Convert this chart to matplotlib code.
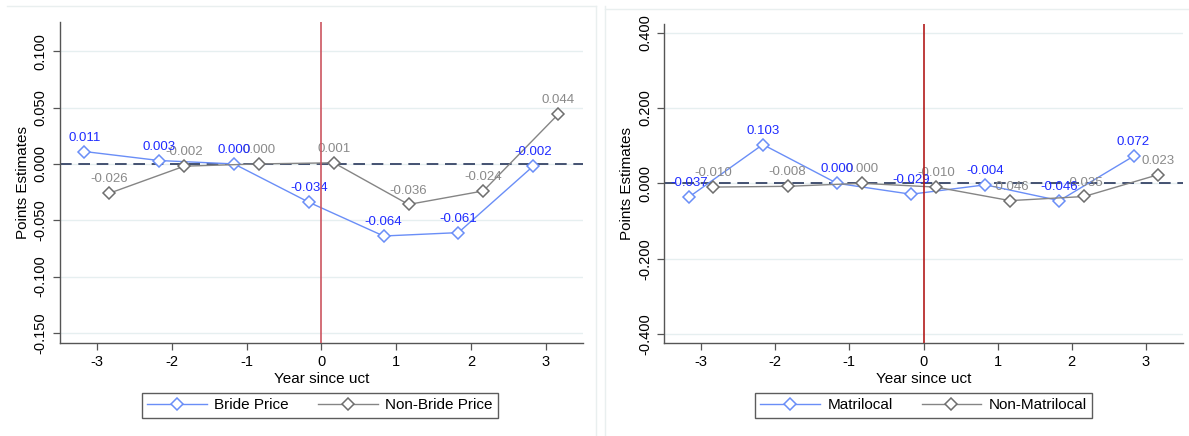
import matplotlib
matplotlib.use("Agg")
import matplotlib.pyplot as plt
from matplotlib.lines import Line2D
import numpy as np

plt.rcParams['font.family'] = ['Liberation Sans', 'DejaVu Sans']

years = [-3, -2, -1, 0, 1, 2, 3]
xtick_labels = ['-3', '-2', '-1', '0', '1', '2', '3']

bride_price = [0.011, 0.003, 0.000, -0.034, -0.064, -0.061, -0.002]
non_bride_price = [-0.026, -0.002, 0.000, 0.001, -0.036, -0.024, 0.044]

matrilocal = [-0.037, 0.103, 0.000, -0.029, -0.004, -0.046, 0.072]
non_matrilocal = [-0.010, -0.008, 0.000, -0.010, -0.046, -0.035, 0.023]

left_yticks = [-0.150, -0.100, -0.050, 0.000, 0.050, 0.100]
right_yticks = [-0.400, -0.200, 0.000, 0.200, 0.400]

series_left = ("Bride Price", bride_price, "Non-Bride Price", non_bride_price)
series_right = ("Matrilocal", matrilocal, "Non-Matrilocal", non_matrilocal)

BLUE_LINE = '#6a8ef7'
BLUE_TXT = '#1f2bff'
GRAY_LINE = '#858585'
GRAY_TXT = '#8a8a8a'

W, H = 1189, 436
fig = plt.figure(figsize=(W / 100, H / 100), dpi=100)

def fx(px):
    return px / W

def fy(py):
    return 1 - py / H

# faint panel borders
for (x0, x1, y) in [(7, 596, 6), (605, 1189, 9)]:
    fig.add_artist(Line2D([fx(x0), fx(x1)], [fy(y), fy(y)], color='#e9efef', lw=1))
for x in [596, 605]:
    fig.add_artist(Line2D([fx(x), fx(x)], [fy(6), 0], color='#e9efef', lw=1))

def panel(rect, series, yticks, ylim, red, leg_cx):
    ax = fig.add_axes(rect)
    name1, v1, name2, v2 = series
    off = 0.167
    x1 = np.array(years) - off
    x2 = np.array(years) + off
    for t in yticks:
        ax.axhline(t, color='#e6eff0', lw=1, zorder=0)
    ax.axhline(0, color='#26365a', lw=1.2, ls=(0, (7, 4)), zorder=1)
    l1, = ax.plot(x1, v1, color=BLUE_LINE, lw=1, marker='D', ms=6.5,
                  mfc='white', mec=BLUE_LINE, mew=1.1, zorder=3, label=name1)
    l2, = ax.plot(x2, v2, color=GRAY_LINE, lw=1, marker='D', ms=6.5,
                  mfc='white', mec='#6e6e6e', mew=1.1, zorder=3, label=name2)
    for xv, yv in zip(x1, v1):
        ax.annotate(f"{yv:.3f}", (xv, yv), xytext=(0, 10), textcoords='offset points',
                    ha='center', va='center', color=BLUE_TXT, fontsize=9.5, zorder=5)
    for xv, yv in zip(x2, v2):
        ax.annotate(f"{yv:.3f}", (xv, yv), xytext=(0, 10), textcoords='offset points',
                    ha='center', va='center', color=GRAY_TXT, fontsize=9.5, zorder=4)
    ax.axvline(0, color=red, lw=1.2, zorder=6)
    ax.set_xlim(-3.5, 3.5)
    ax.set_ylim(*ylim)
    ax.set_xticks(years)
    ax.set_xticklabels(xtick_labels, fontsize=10.5)
    ax.set_yticks(yticks)
    ax.set_yticklabels([f"{t:.3f}" for t in yticks], rotation=90, va='center', fontsize=10.5)
    ax.tick_params(axis='both', length=5, width=0.9, color='#555555')
    for s in ['top', 'right']:
        ax.spines[s].set_visible(False)
    for s in ['left', 'bottom']:
        ax.spines[s].set_color('#555555')
        ax.spines[s].set_linewidth(1)
    ax.set_xlabel("Year since uct", fontsize=11, labelpad=2)
    ax.set_ylabel("Points Estimates", fontsize=11, labelpad=3)
    leg = fig.legend(handles=[l1, l2], loc='upper center',
                     bbox_to_anchor=(fx(leg_cx), fy(393)), bbox_transform=fig.transFigure,
                     ncol=2, frameon=True, fancybox=False, edgecolor='#333333',
                     fontsize=11, handlelength=3.9, columnspacing=1.9, handletextpad=0.5,
                     borderpad=0.35, borderaxespad=0)
    leg.get_frame().set_linewidth(1)
    return ax

panel([fx(59.6), fy(343), fx(583) - fx(59.6), fy(22) - fy(343)],
      series_left, left_yticks, (-0.159, 0.126), '#cc5560', 320)
panel([fx(664), fy(343), fx(1183) - fx(664), fy(24) - fy(343)],
      series_right, right_yticks, (-0.424, 0.423), '#b31b1b', 923.5)

fig.savefig("out.png", dpi=100, facecolor='white')
